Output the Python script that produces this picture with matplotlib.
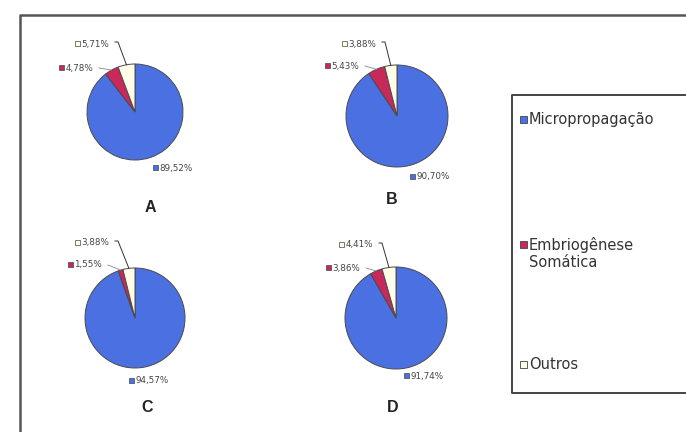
import numpy as np
import matplotlib
matplotlib.use("Agg")
import matplotlib.pyplot as plt
from matplotlib.patches import Rectangle
from matplotlib.lines import Line2D

plt.rcParams['font.family'] = ['DejaVu Sans']

# Data
categories = ["Micropropagação", "Embriogênese\nSomática", "Outros"]
panels = ["A", "B", "C", "D"]
micro = [89.52, 90.70, 94.57, 91.74]
embrio = [4.78, 5.43, 1.55, 3.86]
outros = [5.71, 3.88, 3.88, 4.41]

colors = ["#4a70e2", "#c8285a", "#fffce8"]
edge = "#4a4a4a"

W, H = 686, 432
fig = plt.figure(figsize=(W / 100, H / 100), dpi=100)
fig.patch.set_facecolor("white")


def fx(x):
    return x / W


def fy(y):
    return 1 - y / H


# pixel layout of each pie: centre x, centre y, radius
layout = [
    (135, 112, 48),
    (397, 116, 51),
    (135, 318, 50),
    (396, 318, 51),
]
# label anchors (left edge of marker square, text centre line)
label_pos = [
    {"m": (153, 168), "e": (59, 68), "o": (75, 44), "t": (150, 207)},
    {"m": (410, 177), "e": (325, 66), "o": (342, 44), "t": (392, 200)},
    {"m": (129, 381), "e": (68, 265), "o": (75, 243), "t": (147, 408)},
    {"m": (404, 376), "e": (326, 268), "o": (339, 245), "t": (393, 408)},
]


def fmt(v):
    return f"{v:.2f}%".replace(".", ",")


overlay = fig.add_axes([0, 0, 1, 1], zorder=5)
overlay.set_xlim(0, W)
overlay.set_ylim(H, 0)
overlay.axis("off")
overlay.patch.set_alpha(0)

for i in range(4):
    cx, cy, r = layout[i]
    ax = fig.add_axes([fx(cx - r), fy(cy + r), fx(2 * r), 2 * r / H])
    vals = [micro[i], embrio[i], outros[i]]
    wedges, _ = ax.pie(vals, colors=colors, startangle=90, counterclock=False,
                       radius=1, wedgeprops=dict(edgecolor=edge, linewidth=0.7))
    ax.set_xlim(-1, 1)
    ax.set_ylim(-1, 1)
    ax.set_aspect("equal")
    ax.axis("off")

    lp = label_pos[i]
    # value labels with colour keys
    for key, val, col in (("m", vals[0], colors[0]), ("e", vals[1], colors[1]),
                          ("o", vals[2], colors[2])):
        x, y = lp[key]
        overlay.add_patch(Rectangle((x, y - 3), 5, 5, facecolor=col,
                                    edgecolor="#444444", linewidth=0.5))
        overlay.text(x + 6.5, y, fmt(val), fontsize=6.3, color="#444444",
                     va="center", ha="left")

    # leader lines for the small slices
    for k, key in ((2, "o"), (1, "e")):
        w = wedges[k]
        mid = np.deg2rad((w.theta1 + w.theta2) / 2)
        px = cx + r * np.cos(mid)
        py = cy - r * np.sin(mid)
        x, y = lp[key]
        x_end = x + 40
        if key == "o":
            overlay.add_line(Line2D([x_end, x_end + 3, px], [y - 2, y - 2, py],
                                    color="#333333", linewidth=0.7))
        else:
            overlay.add_line(Line2D([x_end, px], [y, py],
                                    color="#888888", linewidth=0.6))

    tx, ty = lp["t"]
    overlay.text(tx, ty, panels[i], fontsize=11.5, fontweight="bold",
                 family="Liberation Sans", color="#222222",
                 ha="center", va="center")

# outer frame
overlay.add_line(Line2D([20, 20, W], [H, 15, 15], color="#555555", linewidth=1.8))

# legend box
overlay.add_line(Line2D([W, 512, 512, W], [95, 95, 393, 393],
                        color="#444444", linewidth=1.4))
leg_items = [(categories[0], colors[0], 120), (categories[1], colors[1], 245),
             (categories[2], colors[2], 365)]
for text, col, y in leg_items:
    overlay.add_patch(Rectangle((520, y - 4), 7, 7, facecolor=col,
                                edgecolor="#444444", linewidth=0.6))
    overlay.text(529, y - 8, text, fontsize=10.5, color="#333333", va="top",
                 ha="left", linespacing=1.15)

fig.savefig("out.png", dpi=100)
